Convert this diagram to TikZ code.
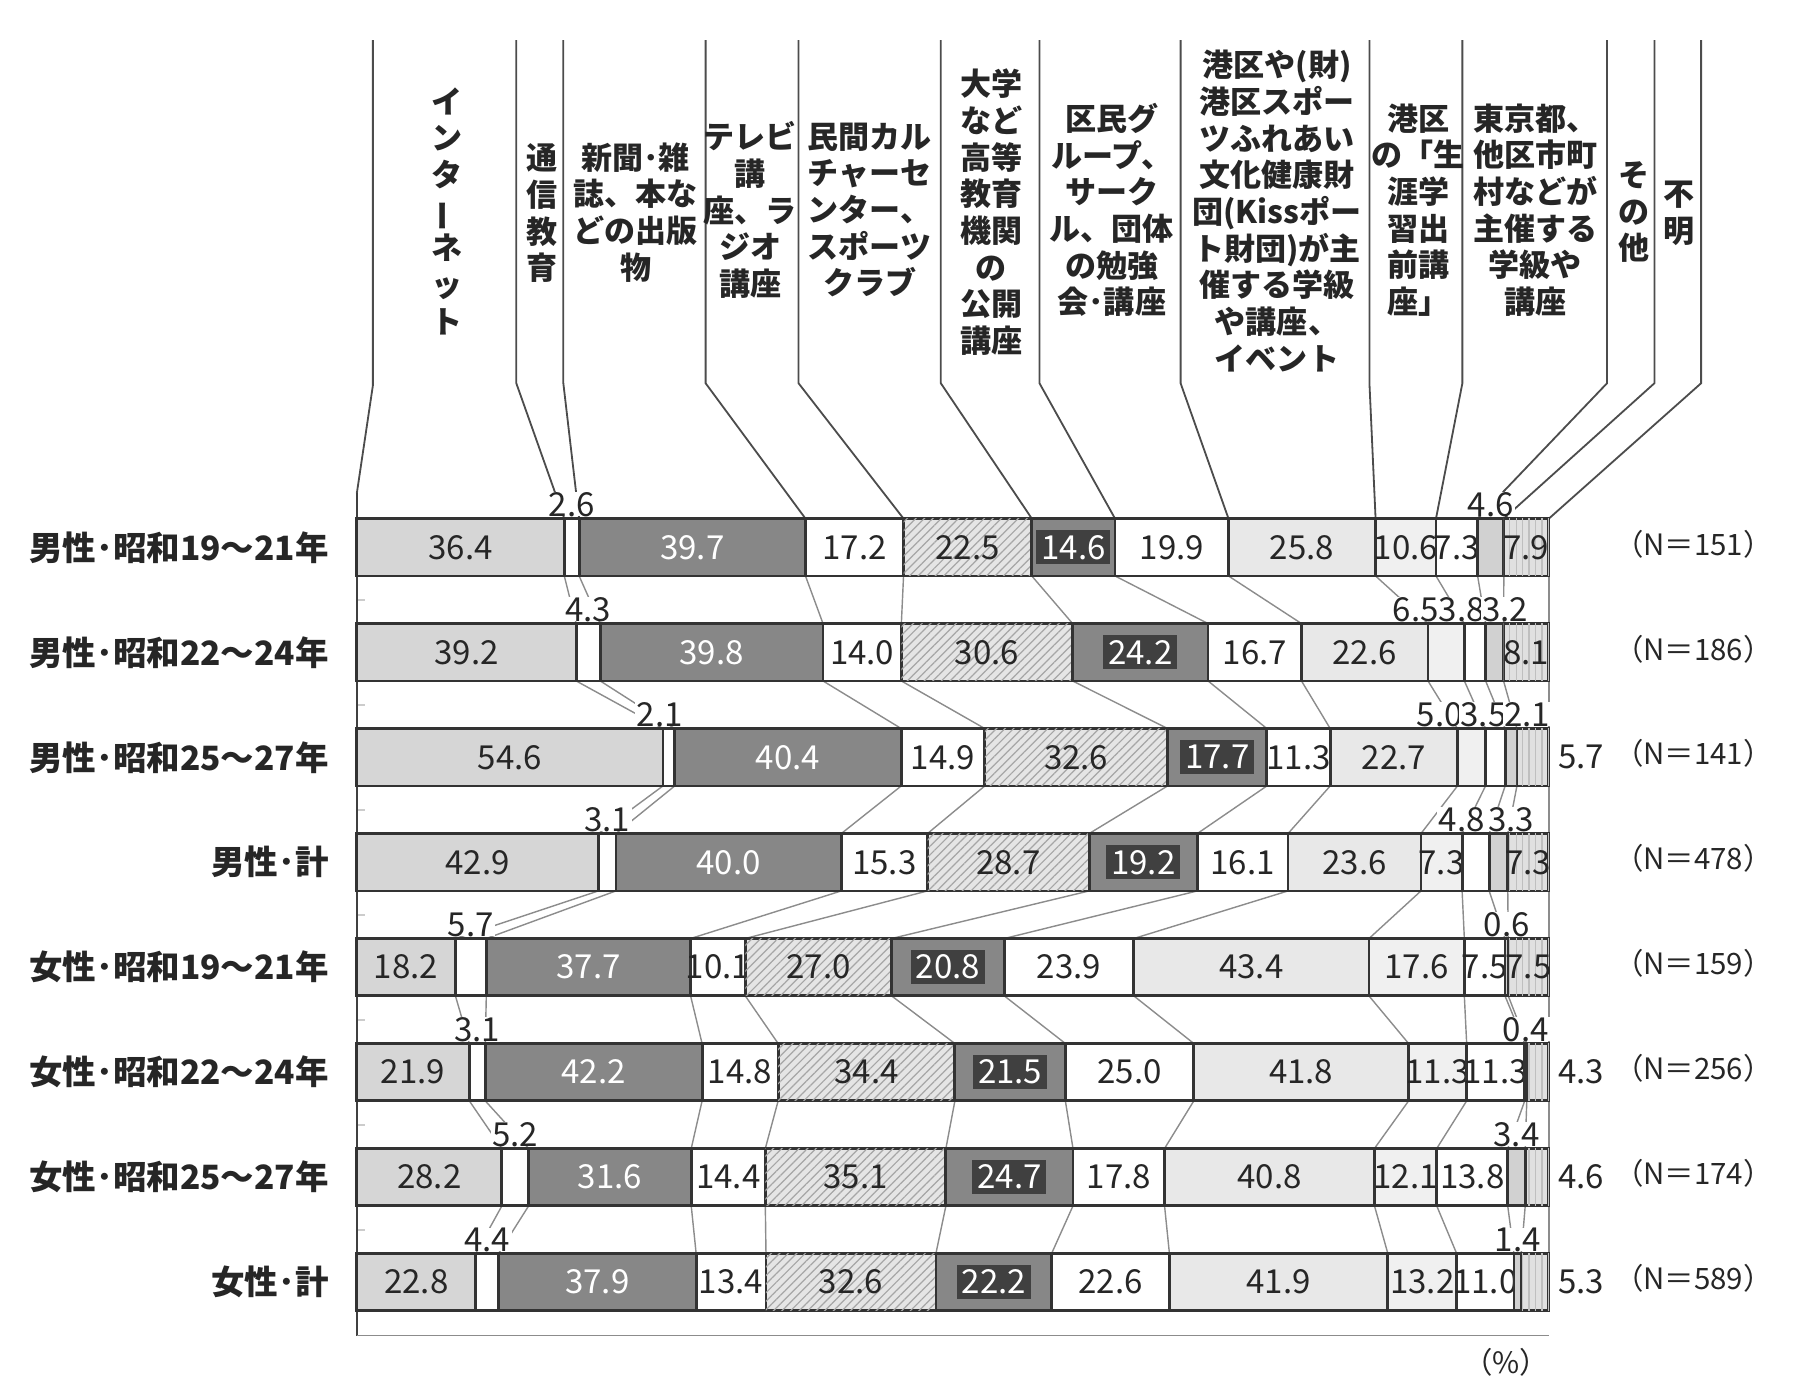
\documentclass[tikz,border=0pt]{standalone}
\usepackage{fontspec}
\setmainfont{Noto Sans CJK JP}
\usetikzlibrary{patterns.meta,backgrounds}

% one bar: row number, top of the bar, list of value/flag
% flag 0 = no label, 1 = inside, 2 = above, 3 = right of the bar
\newcommand\datarow[3]{%
  \gdef\rowsum{0}
  \foreach \v/\f in {#3}{\pgfmathsetmacro\tmp{\rowsum+\v}\global\let\rowsum\tmp}
  \gdef\cum{0}
  \coordinate (t#1-0) at (311,#2);
  \coordinate (b#1-0) at (311,#2+50);
  \foreach \v/\f [count=\k] in {#3}{
    \pgfmathsetmacro\xa{311+(\cum/\rowsum)*1039}
    \pgfmathsetmacro\tmp{\cum+\v}\global\let\cum\tmp
    \pgfmathsetmacro\xb{311+(\cum/\rowsum)*1039}
    \pgfmathsetmacro\xm{(\xa+\xb)/2}
    \draw[bar, seg\k] (\xa,#2) rectangle (\xb,#2+50);
    \coordinate (t#1-\k) at (\xb,#2);
    \coordinate (b#1-\k) at (\xb,#2+50);
    \ifcase\f\relax
    \or \node[num, lab\k] (n#1-\k) at (\xm,#2+25) {\v};
    \or \node[num, over] (n#1-\k) at (\xm,#2-2) {\v};
    \or \node[num] (n#1-\k) at (1378,#2+25) {\v};
    \fi
  }%
}

\begin{document}
\begin{tikzpicture}[x=0.1mm, y=-0.1mm]
	\tikzstyle{bar} = [draw=black!80, line width=0.7pt]
	\tikzstyle{seg1} = [fill=black!16]
	\tikzstyle{seg2} = [fill=white]
	\tikzstyle{seg3} = [fill=black!47]
	\tikzstyle{seg4} = [fill=white]
	\tikzstyle{seg5} = [fill=black!10, postaction={pattern color=black!35, pattern={Lines[angle=45, distance=1.5pt, line width=0.3pt]}}]
	\tikzstyle{seg6} = [fill=black!47]
	\tikzstyle{seg7} = [fill=white]
	\tikzstyle{seg8} = [fill=black!9]
	\tikzstyle{seg9} = [fill=black!6]
	\tikzstyle{seg10} = [fill=white]
	\tikzstyle{seg11} = [fill=black!18]
	\tikzstyle{seg12} = [fill=black!12, postaction={pattern color=black!25, pattern={Lines[angle=90, distance=1.6pt, line width=0.3pt]}}]
	\tikzstyle{num} = [font=\fontsize{8.2}{9}\selectfont, text=black!85, inner sep=0pt]
	\tikzstyle{over} = [anchor=base, fill=white, text depth=0pt, inner xsep=0.4pt]
	\tikzstyle{lab3} = [text=white]
	\tikzstyle{lab6} = [fill=black!75, text=white, inner sep=1.2pt]
	\tikzstyle{lab1} = []
	\tikzstyle{lab2} = []
	\tikzstyle{lab4} = []
	\tikzstyle{lab5} = []
	\tikzstyle{lab7} = []
	\tikzstyle{lab8} = []
	\tikzstyle{lab9} = []
	\tikzstyle{lab10} = []
	\tikzstyle{lab11} = []
	\tikzstyle{lab12} = []
	\tikzstyle{head} = [font=\bfseries\fontsize{7.7}{9.1}\selectfont, align=center, text=black!85, inner sep=0pt]
	\tikzstyle{rowlab} = [font=\bfseries\fontsize{8.3}{10}\selectfont, text=black!85, anchor=east, inner sep=0pt]
	\tikzstyle{nlab} = [font=\fontsize{7.3}{8}\selectfont, text=black!85, inner sep=0pt]
	\tikzstyle{hline} = [black!70, line width=0.45pt]
	\tikzstyle{link} = [black!45, line width=0.35pt]
	
	\useasboundingbox (0,0) rectangle (1568,1220.2);
	
	% column heads
	\node (h1) [head] at (390,184) {イ\\ン\\タ\\\rotatebox[origin=c]{90}{ー}\\ネ\\ッ\\ト};
	\node (h2) [head] at (472,186) {通\\信\\教\\育};
	\node (h3) [head] at (554,185) {新聞･雑\\誌、本な\\どの出版\\物};
	\node (h4) [head] at (654,183) {テレビ\\講\\座、ラ\\ジオ\\講座};
	\node (h5) [head] at (758,183) {民間カル\\チャーセ\\ンター、\\スポーツ\\クラブ};
	\node (h6) [head] at (864,185) {大学\\など\\高等\\教育\\機関\\の\\公開\\講座};
	\node (h7) [head] at (969,183) {区民グ\\ループ、\\サーク\\ル、団体\\の勉強\\会･講座};
	\node (h8) [head] at (1113,184) {港区や(財)\\港区スポー\\ツふれあい\\文化健康財\\団(Kissポー\\ト財団)が主\\催する学級\\や講座、\\イベント};
	\node (h9) [head] at (1236,183) {港区\\の「生\\涯学\\習出\\前講\\座」};
	\node (h10) [head] at (1338,183) {東京都、\\他区市町\\村などが\\主催する\\学級や\\講座};
	\node (h11) [head] at (1424,185) {そ\\の\\他};
	\node (h12) [head] at (1463,186) {不\\明};
	
	% bars
	\datarow{1}{452}{36.4/1, 2.6/2, 39.7/1, 17.2/1, 22.5/1, 14.6/1, 19.9/1, 25.8/1, 10.6/1, 7.3/1, 4.6/2, 7.9/1}
	\datarow{2}{543.5}{39.2/1, 4.3/2, 39.8/1, 14.0/1, 30.6/1, 24.2/1, 16.7/1, 22.6/1, 6.5/0, 3.8/0, 3.2/0, 8.1/1}
	\datarow{3}{635}{54.6/1, 2.1/0, 40.4/1, 14.9/1, 32.6/1, 17.7/1, 11.3/1, 22.7/1, 5.0/0, 3.5/0, 2.1/0, 5.7/3}
	\datarow{4}{726.5}{42.9/1, 3.1/2, 40.0/1, 15.3/1, 28.7/1, 19.2/1, 16.1/1, 23.6/1, 7.3/1, 4.8/0, 3.3/0, 7.3/1}
	\datarow{5}{818}{18.2/1, 5.7/2, 37.7/1, 10.1/1, 27.0/1, 20.8/1, 23.9/1, 43.4/1, 17.6/1, 7.5/1, 0.6/2, 7.5/1}
	\datarow{6}{909.5}{21.9/1, 3.1/2, 42.2/1, 14.8/1, 34.4/1, 21.5/1, 25.0/1, 41.8/1, 11.3/1, 11.3/1, 0.4/2, 4.3/3}
	\datarow{7}{1001}{28.2/1, 5.2/2, 31.6/1, 14.4/1, 35.1/1, 24.7/1, 17.8/1, 40.8/1, 12.1/1, 13.8/1, 3.4/2, 4.6/3}
	\datarow{8}{1092.5}{22.8/1, 4.4/2, 37.9/1, 13.4/1, 32.6/1, 22.2/1, 22.6/1, 41.9/1, 13.2/1, 11.0/1, 1.4/2, 5.3/3}
	
	% labels of the thin segments, set side by side
	\node (n2-9) [num, over] at (1234,541.5) {6.5};
	\node (n2-10) [num, over] at (1274,541.5) {3.8};
	\node (n2-11) [num, over] at (1312,541.5) {3.2};
	\node (n3-2) [num, over] at (575,633) {2.1};
	\node (n3-9) [num, over] at (1255,633) {5.0};
	\node (n3-10) [num, over] at (1293,633) {3.5};
	\node (n3-11) [num, over] at (1331,633) {2.1};
	\node (n4-10) [num, over] at (1274,724.5) {4.8};
	\node (n4-11) [num, over] at (1317,724.5) {3.3};
	
	% row names and sample sizes
	\foreach \r/\y/\name/\n in {1/452/男性･昭和19～21年/151, 2/543.5/男性･昭和22～24年/186, 3/635/男性･昭和25～27年/141, 4/726.5/男性･計/478, 5/818/女性･昭和19～21年/159, 6/909.5/女性･昭和22～24年/256, 7/1001/女性･昭和25～27年/174, 8/1092.5/女性･計/589}{
		\node (r\r) [rowlab] at (287,\y+25) {\name};
		\node (N\r) [nlab] at (1476,\y+22) {（N＝\n）};
	}
	\node (pct) [nlab] at (1313,1187) {（\%）};
	
	\begin{scope}[on background layer]
		% lines from the heads to the first bar
		\coordinate (k0a) at (325,35);
		\coordinate (k0b) at (325,336);
		\coordinate (axtop) at (311,430);
		\coordinate (axbot) at (311,1164);
		\coordinate (axend) at (1350,1164);
		\draw[hline] (k0a) -- (k0b) -- (axtop);
		\foreach \x [count=\k] in {450,491,615,696,820,906,1029,1193.6,1274.6,1400.7,1442,1482.7}{
			\coordinate (ka\k) at (\x,35);
			\coordinate (kb\k) at (\x,334);
			\draw[hline] (ka\k) -- (kb\k) -- (t1-\k);
		}
		% links between bars
		\foreach \r [evaluate=\r as \s using int(\r+1)] in {1,...,7}{
			\foreach \k in {1,...,12}
				\draw[link] (b\r-\k) -- (t\s-\k);
			\draw[black!20, line width=0.4pt] ([yshift=-2.1mm]b\r-0) -- ++(7,0);
		}
		\draw[black!75, line width=0.5pt] (axtop) -- (axbot);
		\draw[black!45, line width=0.4pt] (axbot) -- (axend);
	\end{scope}
\end{tikzpicture}
\end{document}
